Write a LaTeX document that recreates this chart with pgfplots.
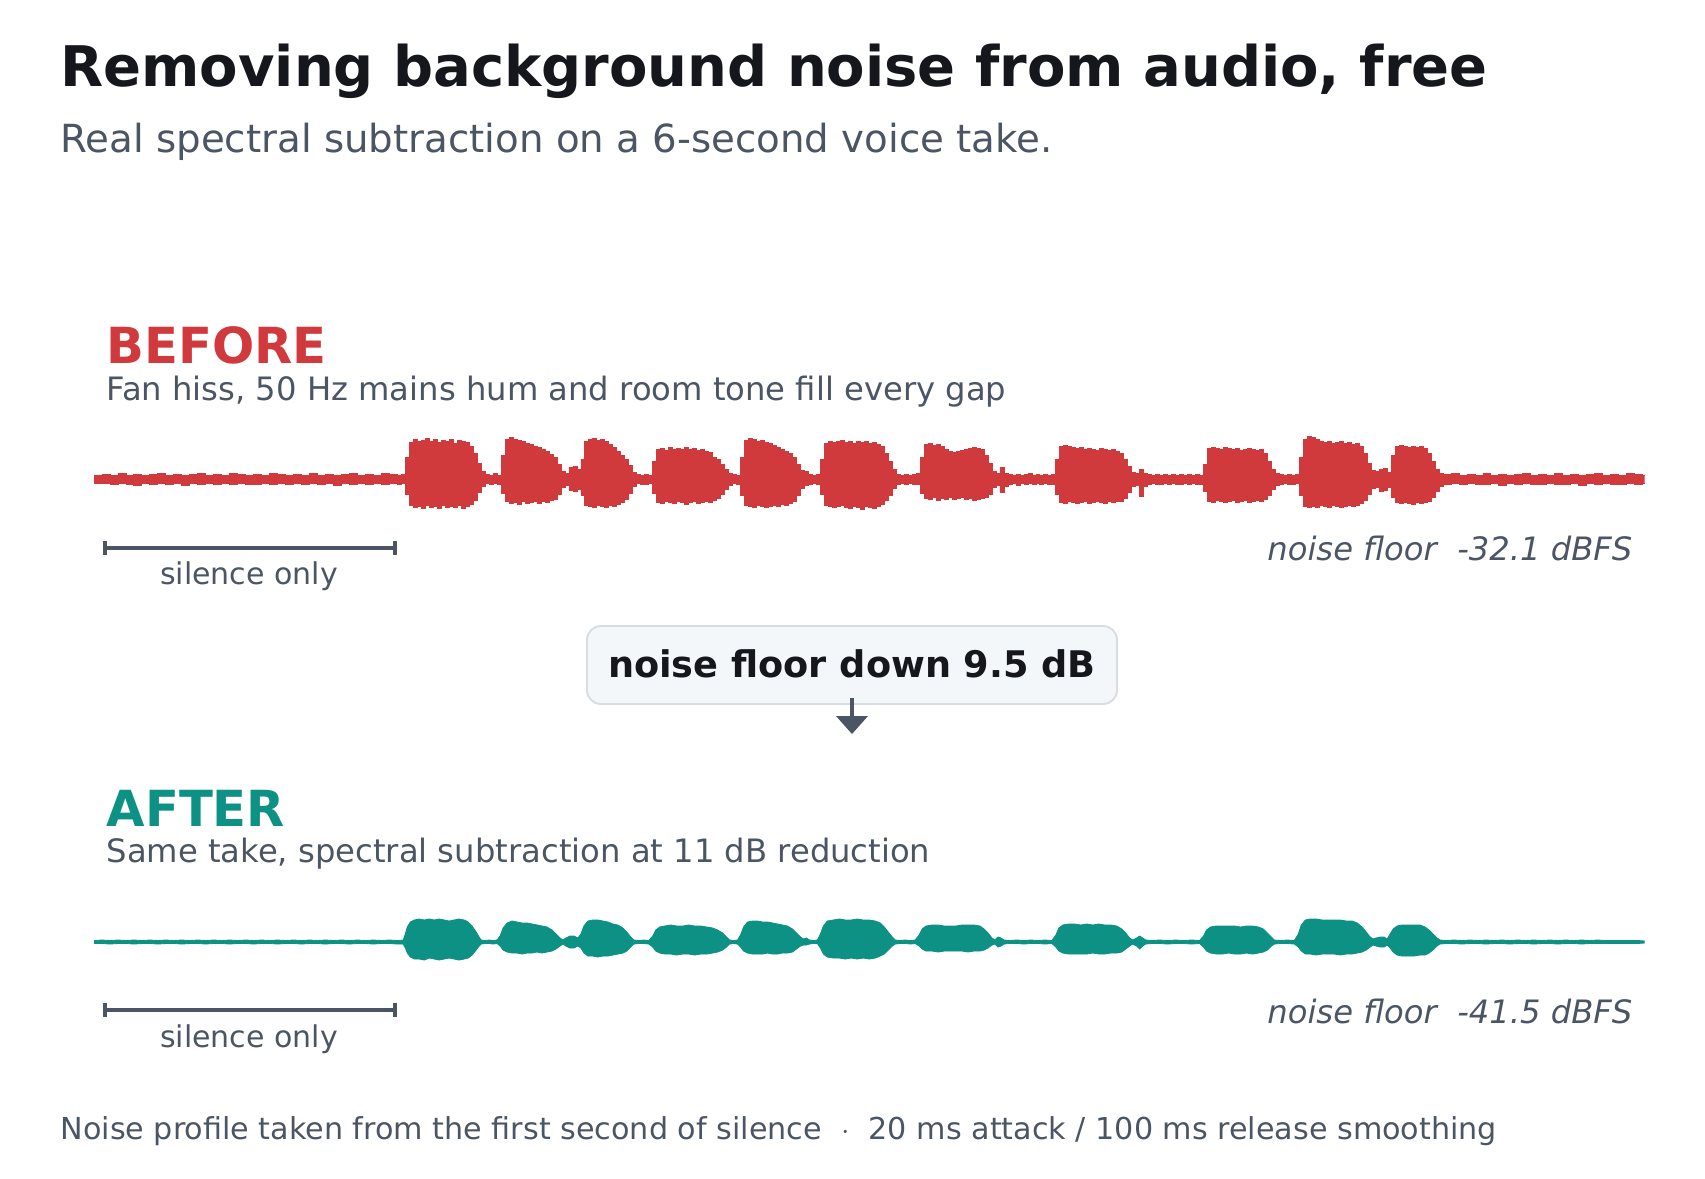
\documentclass[border=0pt]{standalone}
\usepackage{fontspec}
\setmainfont{DejaVu Sans}
\usepackage{pgfplots}
\pgfplotsset{compat=1.18}
\usepackage{pgfplotstable}
\usepgfplotslibrary{fillbetween}

\definecolor{ink}{HTML}{15171C}
\definecolor{muted}{HTML}{4B5563}
\definecolor{wavered}{HTML}{D03A3D}
\definecolor{waveteal}{HTML}{0D9185}
\definecolor{boxfill}{HTML}{F4F7FA}
\definecolor{boxline}{HTML}{D9DDE2}

% envelopes: x position, upper and lower peak (px)
\pgfplotstableread[row sep=\\]{
x hi lo\\
94 4 -4\\ 102 5 -4\\ 110 4 -5\\ 118 6 -4\\ 126 4 -5\\ 134 5 -6\\ 142 4 -4\\ 150 5 -5\\
158 6 -4\\ 166 4 -5\\ 174 5 -4\\ 182 4 -6\\ 190 5 -4\\ 198 6 -5\\ 206 4 -4\\ 214 5 -5\\
222 4 -4\\ 230 6 -5\\ 238 5 -4\\ 246 4 -5\\ 254 5 -5\\ 262 4 -4\\ 270 6 -5\\ 278 5 -4\\
286 4 -5\\ 294 5 -4\\ 302 4 -5\\ 310 6 -4\\ 318 4 -5\\ 326 5 -4\\ 334 4 -6\\ 342 5 -4\\
350 6 -5\\ 358 4 -4\\ 366 5 -5\\ 374 4 -4\\ 382 6 -5\\ 390 5 -4\\ 398 4 -5\\ 402 5 -4\\
406 22 -15\\ 410 37 -26\\ 414 40 -28\\ 418 38 -27\\ 422 39 -29\\ 426 41 -26\\ 430 38 -28\\
434 40 -27\\ 438 37 -29\\ 442 39 -26\\ 446 38 -28\\ 450 40 -27\\ 454 36 -28\\ 458 39 -26\\
462 38 -29\\ 466 37 -27\\ 470 33 -25\\ 474 26 -21\\ 478 16 -13\\ 482 8 -7\\
486 5 -4\\ 490 4 -5\\ 494 6 -4\\ 498 4 -5\\
502 24 -14\\ 506 40 -22\\ 510 42 -24\\ 514 40 -23\\ 518 39 -25\\ 522 38 -22\\ 526 36 -24\\
530 35 -23\\ 534 33 -22\\ 538 32 -24\\ 542 30 -22\\ 546 28 -23\\ 550 25 -21\\ 554 22 -20\\
558 15 -15\\ 562 8 -8\\
566 6 -6\\ 570 12 -11\\ 574 13 -12\\ 578 10 -10\\
582 20 -16\\ 586 38 -26\\ 590 40 -27\\ 594 41 -28\\ 598 39 -26\\ 602 40 -27\\ 606 38 -28\\
610 35 -26\\ 614 32 -27\\ 618 28 -25\\ 622 24 -23\\ 626 20 -20\\ 630 14 -14\\ 634 7 -7\\
638 5 -4\\ 642 4 -5\\ 646 5 -5\\ 650 4 -4\\
654 18 -14\\ 658 30 -23\\ 662 31 -24\\ 666 29 -22\\ 670 32 -23\\ 674 30 -24\\ 678 31 -22\\
682 30 -23\\ 686 32 -25\\ 690 30 -23\\ 694 31 -22\\ 698 29 -24\\ 702 30 -23\\ 706 28 -22\\
710 27 -23\\ 714 22 -21\\ 718 20 -19\\ 722 15 -15\\ 726 10 -10\\ 730 6 -6\\
734 5 -4\\ 738 4 -5\\
742 22 -16\\ 746 39 -26\\ 750 41 -27\\ 754 40 -28\\ 758 38 -26\\ 762 39 -27\\ 766 37 -28\\
770 36 -27\\ 774 34 -26\\ 778 32 -27\\ 782 30 -25\\ 786 28 -26\\ 790 26 -24\\ 794 22 -22\\
798 15 -16\\ 802 9 -9\\
806 8 -6\\ 810 5 -5\\ 814 4 -4\\ 818 5 -5\\
822 20 -15\\ 826 36 -26\\ 830 38 -27\\ 834 37 -28\\ 838 38 -27\\ 842 39 -26\\ 846 37 -28\\
850 38 -29\\ 854 36 -27\\ 858 38 -28\\ 862 37 -30\\ 866 38 -27\\ 870 36 -28\\ 874 37 -29\\
878 35 -27\\ 882 33 -25\\ 886 26 -21\\ 890 18 -16\\ 894 10 -9\\
898 5 -5\\ 902 4 -4\\ 906 5 -5\\ 910 4 -4\\ 914 5 -5\\ 918 6 -5\\
922 22 -14\\ 926 35 -19\\ 930 36 -20\\ 934 34 -18\\ 938 35 -21\\ 942 33 -19\\ 946 30 -20\\
950 28 -18\\ 954 27 -20\\ 958 28 -19\\ 962 29 -18\\ 966 30 -20\\ 970 31 -19\\ 974 32 -21\\
978 31 -20\\ 982 30 -19\\ 986 24 -18\\ 990 16 -15\\ 994 8 -8\\
998 6 -6\\ 1002 12 -13\\ 1006 6 -7\\
1010 5 -5\\ 1014 4 -4\\ 1018 5 -6\\ 1022 4 -4\\ 1026 5 -5\\ 1030 6 -4\\ 1034 4 -5\\
1038 5 -4\\ 1042 4 -5\\ 1046 5 -4\\ 1050 4 -5\\ 1054 5 -5\\
1058 20 -15\\ 1062 33 -23\\ 1066 34 -24\\ 1070 33 -22\\ 1074 32 -23\\ 1078 31 -24\\
1082 32 -23\\ 1086 30 -22\\ 1090 31 -24\\ 1094 30 -23\\ 1098 29 -22\\ 1102 31 -23\\
1106 30 -24\\ 1110 29 -22\\ 1114 30 -23\\ 1118 28 -22\\ 1122 26 -22\\ 1126 20 -19\\
1130 13 -13\\ 1134 7 -7\\
1138 6 -6\\ 1142 10 -17\\ 1146 6 -7\\
1150 5 -5\\ 1154 4 -4\\ 1158 5 -5\\ 1162 4 -5\\ 1166 5 -4\\ 1170 4 -5\\ 1174 5 -4\\
1178 4 -5\\ 1182 5 -5\\ 1186 4 -4\\ 1190 5 -5\\ 1194 4 -4\\ 1198 5 -5\\ 1202 4 -5\\
1206 15 -12\\ 1210 31 -22\\ 1214 32 -23\\ 1218 31 -21\\ 1222 30 -22\\ 1226 32 -23\\
1230 31 -22\\ 1234 30 -21\\ 1238 31 -23\\ 1242 29 -22\\ 1246 30 -21\\ 1250 31 -23\\
1254 30 -22\\ 1258 29 -21\\ 1262 30 -22\\ 1266 26 -20\\ 1270 18 -16\\ 1274 10 -10\\
1278 6 -6\\ 1282 5 -5\\ 1286 4 -4\\ 1290 5 -5\\ 1294 4 -5\\ 1298 5 -4\\
1302 22 -16\\ 1306 40 -27\\ 1310 43 -28\\ 1314 42 -27\\ 1318 40 -28\\ 1322 38 -26\\
1326 37 -27\\ 1330 38 -28\\ 1334 36 -26\\ 1338 37 -27\\ 1342 38 -28\\ 1346 36 -27\\
1350 37 -26\\ 1354 35 -27\\ 1358 36 -26\\ 1362 33 -24\\ 1366 26 -21\\ 1370 16 -15\\
1374 9 -9\\
1378 8 -8\\ 1382 10 -12\\ 1386 11 -11\\ 1390 7 -8\\
1394 24 -18\\ 1398 33 -23\\ 1402 34 -24\\ 1406 33 -23\\ 1410 32 -24\\ 1414 33 -25\\
1418 32 -23\\ 1422 33 -24\\ 1426 31 -23\\ 1430 26 -22\\ 1434 18 -18\\ 1438 10 -12\\
1442 6 -7\\
1446 5 -5\\ 1454 6 -4\\ 1462 4 -5\\ 1470 5 -4\\ 1478 4 -5\\ 1486 6 -5\\ 1494 4 -4\\
1502 5 -6\\ 1510 4 -4\\ 1518 5 -5\\ 1526 6 -4\\ 1534 4 -5\\ 1542 5 -5\\ 1550 4 -4\\
1558 6 -5\\ 1566 4 -5\\ 1574 5 -4\\ 1582 4 -6\\ 1590 5 -4\\ 1598 6 -5\\ 1606 4 -4\\
1614 5 -5\\ 1622 4 -5\\ 1630 6 -4\\ 1638 5 -5\\ 1646 4 -4\\ 1648 4 -4\\
}\before

\pgfplotstableread[row sep=\\]{
x hi lo\\
94 1.5 -1.5\\ 102 2 -1.5\\ 110 1.5 -2\\ 118 2 -1.5\\ 126 1.5 -1.5\\ 134 2 -2\\
142 1.5 -1.5\\ 150 2 -1.5\\ 158 1.5 -2\\ 166 2 -1.5\\ 174 1.5 -1.5\\ 182 2 -2\\
190 1.5 -1.5\\ 198 2 -1.5\\ 206 1.5 -2\\ 214 2 -1.5\\ 222 1.5 -1.5\\ 230 2 -2\\
238 1.5 -1.5\\ 246 2 -1.5\\ 254 1.5 -2\\ 262 2 -1.5\\ 270 1.5 -1.5\\ 278 2 -2\\
286 1.5 -1.5\\ 294 2 -1.5\\ 302 1.5 -2\\ 310 2 -1.5\\ 318 1.5 -1.5\\ 326 2 -2\\
334 1.5 -1.5\\ 342 2 -1.5\\ 350 1.5 -2\\ 358 2 -1.5\\ 366 1.5 -1.5\\ 374 2 -2\\
382 1.5 -1.5\\ 390 2 -1.5\\ 398 1.5 -2\\ 404 2 -2\\
406 8 -6\\ 408 15 -11\\ 411 20 -15\\ 415 22 -17\\ 420 23 -17\\ 425 22 -18\\ 430 23 -16\\
435 22 -17\\ 440 23 -18\\ 445 22 -17\\ 450 21 -16\\ 455 22 -17\\ 460 23 -18\\ 465 22 -17\\
469 20 -16\\ 473 16 -13\\ 477 10 -8\\ 480 5 -4\\ 482 2 -2\\
486 1.5 -1.5\\ 490 2 -1.5\\ 494 1.5 -2\\ 498 2 -1.5\\
501 6 -4\\ 504 14 -8\\ 508 19 -10\\ 513 21 -11\\ 518 20 -11\\ 523 19 -12\\ 528 19 -11\\
533 18 -11\\ 538 17 -10\\ 543 16 -11\\ 548 15 -10\\ 553 12 -9\\ 557 8 -7\\ 561 4 -4\\
564 2 -2\\ 567 4 -4\\ 571 6 -6\\ 575 6 -6\\ 579 4 -4\\
582 8 -6\\ 585 16 -11\\ 589 21 -14\\ 594 22 -14\\ 599 22 -15\\ 604 21 -14\\ 609 20 -14\\
614 18 -13\\ 619 17 -12\\ 624 14 -11\\ 628 10 -9\\ 632 5 -5\\ 635 2 -2\\
640 1.5 -1.5\\ 645 2 -1.5\\ 650 1.5 -2\\
654 6 -5\\ 657 12 -9\\ 661 15 -11\\ 666 16 -12\\ 672 17 -12\\ 678 16 -13\\ 684 16 -12\\
690 17 -12\\ 696 16 -13\\ 702 16 -12\\ 708 15 -12\\ 714 14 -11\\ 719 12 -10\\ 724 9 -8\\
728 5 -5\\ 731 2 -2\\ 735 1.5 -1.5\\ 739 2 -2\\
742 7 -5\\ 745 15 -9\\ 749 20 -11\\ 754 21 -12\\ 759 21 -12\\ 764 20 -12\\ 769 20 -11\\
774 19 -12\\ 779 18 -12\\ 784 17 -11\\ 789 16 -11\\ 794 13 -10\\ 798 9 -7\\ 802 5 -4\\
805 3 -3\\ 808 4 -3\\ 811 2 -2\\ 815 1.5 -1.5\\ 819 2 -1.5\\
822 8 -6\\ 825 16 -12\\ 829 21 -15\\ 835 22 -16\\ 841 23 -16\\ 847 22 -17\\ 853 22 -16\\
859 23 -17\\ 865 22 -16\\ 871 22 -17\\ 877 21 -16\\ 882 19 -14\\ 886 15 -12\\ 890 10 -8\\
894 5 -4\\ 897 2 -2\\
902 1.5 -1.5\\ 907 2 -1.5\\ 912 1.5 -2\\ 917 2 -1.5\\
921 7 -4\\ 924 13 -7\\ 928 16 -9\\ 934 17 -9\\ 940 17 -10\\ 946 16 -9\\ 952 16 -9\\
958 16 -9\\ 964 17 -9\\ 970 17 -10\\ 976 17 -9\\ 982 16 -9\\ 986 13 -8\\ 990 9 -6\\
994 4 -3\\ 997 2 -2\\ 1000 5 -5\\ 1003 4 -4\\ 1006 2 -2\\
1012 1.5 -1.5\\ 1019 2 -1.5\\ 1026 1.5 -2\\ 1033 2 -1.5\\ 1040 1.5 -1.5\\ 1047 2 -2\\
1054 1.5 -1.5\\
1058 7 -5\\ 1061 14 -9\\ 1065 17 -11\\ 1071 18 -12\\ 1077 18 -12\\ 1083 17 -12\\
1089 18 -12\\ 1095 17 -11\\ 1101 18 -12\\ 1107 17 -12\\ 1113 17 -11\\ 1119 16 -11\\
1124 13 -10\\ 1128 9 -7\\ 1132 4 -4\\ 1135 2 -2\\
1139 4 -4\\ 1142 6 -7\\ 1145 4 -4\\ 1148 2 -2\\
1154 1.5 -1.5\\ 1162 2 -1.5\\ 1170 1.5 -2\\ 1178 2 -1.5\\ 1186 1.5 -1.5\\ 1194 2 -2\\
1202 1.5 -1.5\\
1206 6 -5\\ 1209 12 -9\\ 1213 15 -11\\ 1219 16 -12\\ 1225 16 -12\\ 1231 16 -11\\
1237 16 -12\\ 1243 15 -12\\ 1249 16 -11\\ 1255 16 -12\\ 1261 15 -11\\ 1266 13 -10\\
1270 9 -8\\ 1274 5 -4\\ 1277 2 -2\\
1283 1.5 -1.5\\ 1290 2 -1.5\\ 1297 1.5 -2\\
1301 8 -5\\ 1304 17 -9\\ 1308 22 -12\\ 1313 23 -12\\ 1319 23 -13\\ 1325 22 -12\\
1331 22 -12\\ 1337 22 -12\\ 1343 22 -13\\ 1349 21 -12\\ 1355 21 -12\\ 1360 19 -11\\
1365 15 -10\\ 1369 10 -8\\ 1373 5 -5\\ 1376 3 -3\\
1379 4 -4\\ 1383 5 -5\\ 1387 5 -5\\ 1390 3 -3\\
1393 8 -6\\ 1396 13 -10\\ 1400 16 -13\\ 1405 17 -14\\ 1411 17 -14\\ 1417 17 -14\\
1423 17 -13\\ 1428 15 -13\\ 1432 12 -11\\ 1436 8 -8\\ 1440 4 -4\\ 1443 2 -2\\
1449 1.5 -1.5\\ 1457 2 -1.5\\ 1465 1.5 -2\\ 1473 2 -1.5\\ 1481 1.5 -1.5\\ 1489 2 -2\\
1497 1.5 -1.5\\ 1505 2 -1.5\\ 1513 1.5 -2\\ 1521 2 -1.5\\ 1529 1.5 -1.5\\ 1537 2 -2\\
1545 1.5 -1.5\\ 1553 2 -1.5\\ 1561 1.5 -2\\ 1569 2 -1.5\\ 1577 1.5 -1.5\\ 1585 2 -2\\
1593 1.5 -1.5\\ 1601 2 -1.5\\ 1609 1.5 -1.5\\ 1617 1.5 -1.5\\ 1625 1.5 -1.5\\
1633 1.5 -1.5\\ 1641 1.5 -1.5\\ 1648 1 -1\\
}\after

\pgfplotsset{
  wave/.style={hide axis, scale only axis, clip=false,
    width=558.2pt, height=43.2pt,
    xmin=94, xmax=1648, ymin=-60, ymax=60, anchor=west},
}

\begin{document}
\begin{tikzpicture}[x=0.36pt, y=-0.36pt]
\path (0,0) rectangle (1705,1178);
\coordinate (beforeaxis) at (94,479);
\coordinate (afteraxis) at (94,942);

% title block
\node[anchor=base west, inner sep=0, text=ink] at (60,86)
  {\fontsize{20.15}{24}\selectfont\bfseries Removing background noise from audio, free};
\node[anchor=base west, inner sep=0, text=muted] at (60,152)
  {\fontsize{13.94}{17}\selectfont Real spectral subtraction on a 6-second voice take.};

% before
\node[anchor=base west, inner sep=0, text=wavered] at (106,363)
  {\fontsize{17.9}{22}\selectfont\bfseries BEFORE};
\node[anchor=base west, inner sep=0, text=muted] at (106,400)
  {\fontsize{11.6}{14}\selectfont Fan hiss, 50 Hz mains hum and room tone fill every gap};

\begin{axis}[wave, at={(beforeaxis)}]
\addplot[name path=bh, wavered, line width=0.3pt, const plot] table[x=x, y=hi] {\before};
\addplot[name path=bl, wavered, line width=0.3pt, const plot] table[x=x, y=lo] {\before};
\addplot[wavered] fill between[of=bh and bl];
\end{axis}

\draw[muted, line width=1.2pt] (105,548) -- (395,548);
\draw[muted, line width=1.2pt] (105,541) -- (105,555);
\draw[muted, line width=1.2pt] (395,541) -- (395,555);
\node[anchor=base, inner sep=0, text=muted] at (249,584)
  {\fontsize{10.8}{13}\selectfont silence only};
\node[anchor=base east, inner sep=0, text=muted] at (1633,560)
  {\fontsize{11.6}{14}\selectfont\itshape noise floor\ \ -32.1 dBFS};

% callout
\draw[fill=boxfill, draw=boxline, line width=0.7pt, rounded corners=5pt]
  (587,626) rectangle (1117,704);
\node[anchor=base, inner sep=0, text=ink] at (852,677)
  {\fontsize{13.2}{16}\selectfont\bfseries noise floor down 9.5 dB};
\draw[muted, line width=1.2pt] (852,698) -- (852,718);
\fill[muted] (836,716) -- (868,716) -- (852,734) -- cycle;

% after
\node[anchor=base west, inner sep=0, text=waveteal] at (106,826)
  {\fontsize{17.9}{22}\selectfont\bfseries AFTER};
\node[anchor=base west, inner sep=0, text=muted] at (106,862)
  {\fontsize{11.6}{14}\selectfont Same take, spectral subtraction at 11 dB reduction};

\begin{axis}[wave, at={(afteraxis)}]
\addplot[name path=ah, waveteal, line width=0.3pt] table[x=x, y=hi] {\after};
\addplot[name path=al, waveteal, line width=0.3pt] table[x=x, y=lo] {\after};
\addplot[waveteal] fill between[of=ah and al];
\end{axis}

\draw[muted, line width=1.2pt] (105,1010) -- (395,1010);
\draw[muted, line width=1.2pt] (105,1003) -- (105,1017);
\draw[muted, line width=1.2pt] (395,1003) -- (395,1017);
\node[anchor=base, inner sep=0, text=muted] at (249,1047)
  {\fontsize{10.8}{13}\selectfont silence only};
\node[anchor=base east, inner sep=0, text=muted] at (1633,1023)
  {\fontsize{11.6}{14}\selectfont\itshape noise floor\ \ -41.5 dBFS};

% footer
\node[anchor=base west, inner sep=0, text=muted] at (60,1139)
  {\fontsize{10.87}{13}\selectfont Noise profile taken from the first second of silence\ \ $\cdot$\ \ 20 ms attack / 100 ms release smoothing};
\end{tikzpicture}
\end{document}
